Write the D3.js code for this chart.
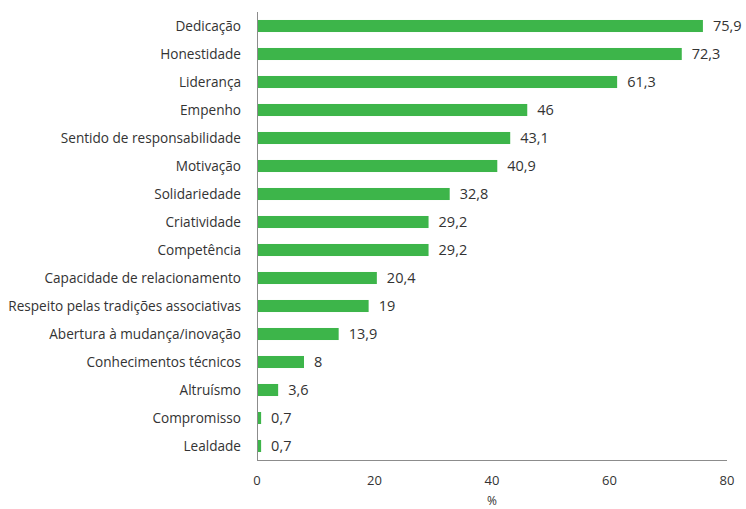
<!DOCTYPE html>
<html><head><meta charset="utf-8">
<script src="https://cdn.jsdelivr.net/npm/d3@7"></script>
<style>body{margin:0;background:#fff}</style>
</head><body>
<svg id="c" width="746" height="509"></svg>
<script>
const categories = ["Dedicação","Honestidade","Liderança","Empenho","Sentido de responsabilidade","Motivação","Solidariedade","Criatividade","Competência","Capacidade de relacionamento","Respeito pelas tradições associativas","Abertura à mudança/inovação","Conhecimentos técnicos","Altruísmo","Compromisso","Lealdade"];
const values = [75.9,72.3,61.3,46,43.1,40.9,32.8,29.2,29.2,20.4,19,13.9,8,3.6,0.7,0.7];
const ticks = [0,20,40,60,80];
const axisTitle = "%";

const svg = d3.select("#c");
const font = "'Open Sans', sans-serif";
const x = d3.scaleLinear().domain([0,80]).range([257,727]);
const y = d3.scaleBand().domain(categories).range([12,460]).paddingInner(0.57).paddingOuter(0.285);
const fmt = v => String(v).replace(".", ",");

svg.selectAll("rect.bar").data(values).join("rect")
  .attr("x", x(0)).attr("y", (d,i)=>y(categories[i]))
  .attr("width", d=>x(d)-x(0)).attr("height", y.bandwidth())
  .attr("fill", "#3db54a");

svg.selectAll("text.val").data(values).join("text")
  .attr("x", d=>x(d)+10).attr("y", (d,i)=>y(categories[i])+y.bandwidth()/2)
  .attr("dy","0.36em").attr("font-family",font).attr("font-size",14.5).attr("fill","#333")
  .text(d=>fmt(d));

svg.selectAll("text.cat").data(categories).join("text")
  .attr("x", 241).attr("y", d=>y(d)+y.bandwidth()/2).attr("dy","0.36em")
  .attr("text-anchor","end").attr("font-family",font).attr("font-size",13.6).attr("fill","#333")
  .text(d=>d);

svg.append("line").attr("x1",257.5).attr("x2",257.5).attr("y1",12).attr("y2",460.5).attr("stroke","#8c8c8c");
svg.append("line").attr("x1",257).attr("x2",727).attr("y1",460.5).attr("y2",460.5).attr("stroke","#8c8c8c");

svg.selectAll("text.tick").data(ticks).join("text")
  .attr("x", d=>x(d)).attr("y",480).attr("dy","0.36em").attr("text-anchor","middle")
  .attr("font-family",font).attr("font-size",13).attr("fill","#333").text(d=>d);

svg.append("text").attr("x",x(40)).attr("y",501).attr("dy","0.36em").attr("text-anchor","middle")
  .attr("font-family",font).attr("font-size",12).attr("fill","#333").text(axisTitle);
</script>
</body></html>
